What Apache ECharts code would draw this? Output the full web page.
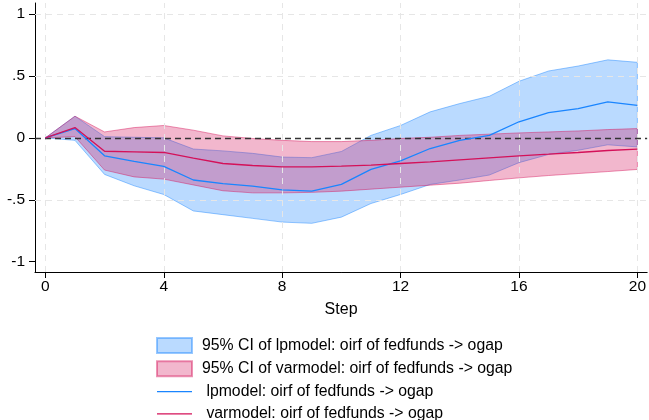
<!DOCTYPE html>
<html><head><meta charset="utf-8">
<script src="https://cdn.jsdelivr.net/npm/echarts@6/dist/echarts.min.js"></script>
<style>html,body{margin:0;padding:0;background:#fff}#c{width:649px;height:420px}</style>
</head><body><div id="c"></div>
<script>
const steps = [0,1,2,3,4,5,6,7,8,9,10,11,12,13,14,15,16,17,18,19,20];
const lpIrf = [0,0.075,-0.145,-0.19,-0.23,-0.34,-0.37,-0.39,-0.42,-0.43,-0.376,-0.255,-0.185,-0.086,-0.02,0.02,0.13,0.204,0.237,0.29,0.263];
const lpUpper = [0,0.175,0.01,0.005,0.0,-0.09,-0.105,-0.125,-0.155,-0.16,-0.11,0.02,0.10,0.21,0.277,0.336,0.457,0.54,0.58,0.63,0.61];
const lpLower = [0,-0.02,-0.295,-0.387,-0.457,-0.59,-0.62,-0.65,-0.68,-0.69,-0.64,-0.53,-0.457,-0.376,-0.34,-0.30,-0.20,-0.134,-0.10,-0.056,-0.073];
const varIrf = [0,0.083,-0.108,-0.113,-0.118,-0.164,-0.207,-0.223,-0.234,-0.234,-0.228,-0.22,-0.207,-0.194,-0.177,-0.161,-0.145,-0.132,-0.118,-0.102,-0.091];
const varUpper = [0,0.175,0.048,0.083,0.10,0.062,0.016,-0.005,-0.02,-0.03,-0.03,-0.02,-0.005,0.005,0.02,0.03,0.04,0.048,0.056,0.067,0.075];
const varLower = [0,0.01,-0.26,-0.315,-0.333,-0.38,-0.427,-0.444,-0.444,-0.44,-0.43,-0.414,-0.398,-0.382,-0.366,-0.344,-0.323,-0.304,-0.288,-0.272,-0.255];
const xTicks = [0,4,8,12,16,20];
const yTicks = [-1,-0.5,0,0.5,1];
const yTickLabels = ['-1','-.5','0','.5','1'];
const yGrid = [-0.5,0.5,1];
const names = ['95% CI of lpmodel: oirf of fedfunds -> ogap','95% CI of varmodel: oirf of fedfunds -> ogap','lpmodel: oirf of fedfunds -> ogap','varmodel: oirf of fedfunds -> ogap'];

const BLUE = '#1a85ff', PINK = '#d41159';
const FONT = 'Liberation Sans';
const LINE_ICON = 'path://M0,0L36,0L36,1.4L0,1.4Z';

function band(lo, hi, fill, stroke, name, z) {
  return {
    type: 'custom', name: name, z: z,
    itemStyle: {color: fill, borderColor: stroke, borderWidth: 1},
    data: steps.map((s,i)=>[s, lo[i], hi[i]]),
    encode: {x: 0, y: [1,2]},
    renderItem: function(params, api) {
      if (params.dataIndex !== 0) return null;
      const pts = [];
      for (let i = 0; i < steps.length; i++) pts.push(api.coord([steps[i], hi[i]]));
      for (let i = steps.length-1; i >= 0; i--) pts.push(api.coord([steps[i], lo[i]]));
      return {type: 'polygon', shape: {points: pts}, style: {fill: fill, stroke: stroke, lineWidth: 1}};
    }
  };
}

const chart = echarts.init(document.getElementById('c'), null, {renderer: 'canvas'});
chart.setOption({
  animation: false,
  textStyle: {fontFamily: FONT},
  grid: {left: 35, right: 0, top: 3, bottom: 148, containLabel: false},
  xAxis: {
    type: 'value', min: -0.35, max: 20.33,
    name: 'Step', nameLocation: 'middle', nameGap: 30,
    nameTextStyle: {color: '#000', fontSize: 16, fontFamily: FONT},
    axisLine: {show: true, onZero: false, lineStyle: {color: '#000', width: 1}},
    axisTick: {show: true, length: 6, lineStyle: {color: '#000'}, customValues: xTicks},
    axisLabel: {color: '#000', fontSize: 15.5, margin: 7, fontFamily: FONT, customValues: xTicks},
    splitLine: {show: false}
  },
  yAxis: {
    type: 'value', min: -1.083, max: 1.089,
    axisLine: {show: true, onZero: false, lineStyle: {color: '#000', width: 1}},
    axisTick: {show: true, length: 6, lineStyle: {color: '#000'}, customValues: yTicks},
    axisLabel: {color: '#000', fontSize: 15.5, margin: 10, fontFamily: FONT, customValues: yTicks,
      formatter: function(v){ const i = yTicks.indexOf(v); return i >= 0 ? yTickLabels[i] : ''; }},
    splitLine: {show: false}
  },
  legend: {
    orient: 'vertical', left: 156, top: 337, height: 110, width: 490, padding: 0,
    itemWidth: 35, itemHeight: 15, itemGap: 6.3,
    textStyle: {color: '#000', fontSize: 15.8, fontFamily: FONT, padding: [0, 0, 0, 5]},
    data: [
      {name: names[0], icon: 'rect'},
      {name: names[1], icon: 'rect'},
      {name: names[2], icon: LINE_ICON},
      {name: names[3], icon: LINE_ICON}
    ],
    formatter: function(n){ return (n === names[2] || n === names[3]) ? ' ' + n : n; }
  },
  series: [
    {
      type: 'line', name: '_grid', data: [], silent: true, z: 1,
      markLine: {
        silent: true, symbol: 'none', label: {show: false},
        lineStyle: {color: '#e6e6e6', type: [6,5], width: 1},
        data: xTicks.map(v=>({xAxis: v})).concat(yGrid.map(v=>({yAxis: v})))
      }
    },
    band(lpLower, lpUpper, 'rgba(26,133,255,0.30)', 'rgba(26,133,255,0.45)', names[0], 2),
    band(varLower, varUpper, 'rgba(212,17,89,0.30)', 'rgba(212,17,89,0.45)', names[1], 3),
    {
      type: 'line', name: names[2], z: 5, symbol: 'none', showSymbol: false,
      data: steps.map((s,i)=>[s, lpIrf[i]]),
      lineStyle: {color: BLUE, width: 1.3}, itemStyle: {color: BLUE}
    },
    {
      type: 'line', name: names[3], z: 6, symbol: 'none', showSymbol: false,
      data: steps.map((s,i)=>[s, varIrf[i]]),
      lineStyle: {color: PINK, width: 1.3}, itemStyle: {color: PINK},
      markLine: {
        silent: true, symbol: 'none', label: {show: false},
        lineStyle: {color: '#333', type: [6,4], width: 1.4},
        data: [{yAxis: 0}]
      }
    }
  ]
});
</script></body></html>
